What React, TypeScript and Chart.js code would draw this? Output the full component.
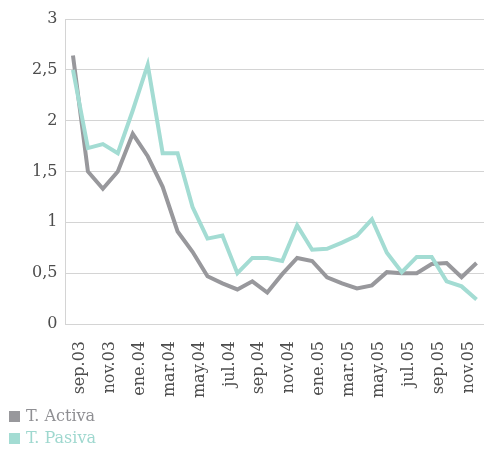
import { useEffect, useRef } from 'react';
import { Chart, registerables } from 'chart.js';

Chart.register(...registerables);

const categories = [
  'sep.03', 'oct.03', 'nov.03', 'dic.03', 'ene.04', 'feb.04', 'mar.04', 'abr.04',
  'may.04', 'jun.04', 'jul.04', 'ago.04', 'sep.04', 'oct.04', 'nov.04', 'dic.04',
  'ene.05', 'feb.05', 'mar.05', 'abr.05', 'may.05', 'jun.05', 'jul.05', 'ago.05',
  'sep.05', 'oct.05', 'nov.05', 'dic.05',
];

const activa = [
  2.64, 1.5, 1.33, 1.5, 1.87, 1.65, 1.35, 0.91, 0.71, 0.47, 0.4, 0.34, 0.42, 0.31,
  0.49, 0.65, 0.62, 0.46, 0.4, 0.35, 0.38, 0.51, 0.5, 0.5, 0.59, 0.6, 0.46, 0.6,
];

const pasiva = [
  2.5, 1.73, 1.77, 1.68, 2.1, 2.55, 1.68, 1.68, 1.15, 0.84, 0.87, 0.5, 0.65, 0.65,
  0.62, 0.97, 0.73, 0.74, 0.8, 0.87, 1.03, 0.7, 0.51, 0.66, 0.66, 0.42, 0.37, 0.24,
];

const seriesNames = ['T. Activa', 'T. Pasiva'];
const seriesColors = ['#98989c', '#a3dcd3'];
const legendTextColors = ['#8f8f93', '#9fd8cf'];

const FONT = "'DejaVu Serif', serif";
const TICK_COLOR = '#4d4d4d';

export default function App() {
  const canvasRef = useRef<HTMLCanvasElement | null>(null);

  useEffect(() => {
    if (!canvasRef.current) return;
    const chart = new Chart(canvasRef.current, {
      type: 'line',
      data: {
        labels: categories,
        datasets: [
          {
            label: seriesNames[0],
            data: activa,
            borderColor: seriesColors[0],
            backgroundColor: seriesColors[0],
            borderWidth: 4,
            pointRadius: 0,
            tension: 0,
            order: 1,
          },
          {
            label: seriesNames[1],
            data: pasiva,
            borderColor: seriesColors[1],
            backgroundColor: seriesColors[1],
            borderWidth: 4,
            pointRadius: 0,
            tension: 0,
            order: 0,
          },
        ],
      },
      options: {
        responsive: false,
        animation: false,
        layout: { padding: { left: 0, right: 0, top: 19, bottom: 0 } },
        plugins: {
          legend: { display: false },
          tooltip: { enabled: false },
        },
        scales: {
          x: {
            offset: true,
            grid: { display: false, drawTicks: false },
            border: { display: true, color: '#d4d4d4', width: 1 },
            ticks: {
              autoSkip: false,
              minRotation: 90,
              maxRotation: 90,
              padding: 17,
              labelOffset: 7,
              color: TICK_COLOR,
              font: { family: FONT, size: 16 },
              callback: (_v: any, i: number) => (i % 2 === 0 ? categories[i] : ''),
            },
            afterFit: (s: any) => {
              s.height = 125;
              s.paddingLeft = 0;
              s.paddingRight = 0;
            },
          },
          y: {
            min: 0,
            max: 3,
            grid: { color: '#d4d4d4', lineWidth: 1, drawTicks: false },
            border: { display: true, color: '#d4d4d4', width: 1 },
            ticks: {
              stepSize: 0.5,
              padding: 8,
              color: TICK_COLOR,
              font: { family: FONT, size: 16 },
              callback: (v: any) => String(v).replace('.', ','),
            },
            afterFit: (s: any) => {
              s.width = 65.5;
              s.paddingTop = 0;
              s.paddingBottom = 0;
            },
          },
        },
      },
    });
    return () => chart.destroy();
  }, []);

  return (
    <div style={{ position: 'absolute', left: 0, top: 0, width: 484, height: 449, background: '#fff' }}>
      <canvas ref={canvasRef} width={484} height={449} style={{ display: 'block' }} />
      <div
        style={{
          position: 'absolute',
          left: 9,
          top: 405,
          fontFamily: FONT,
          fontSize: 16,
          lineHeight: '22px',
        }}
      >
        {seriesNames.map((n, i) => (
          <div key={n} style={{ display: 'flex', alignItems: 'center', color: legendTextColors[i] }}>
            <span
              style={{
                display: 'inline-block',
                width: 11,
                height: 11,
                background: seriesColors[i],
                marginRight: 6,
              }}
            />
            <span>{n}</span>
          </div>
        ))}
      </div>
    </div>
  );
}
